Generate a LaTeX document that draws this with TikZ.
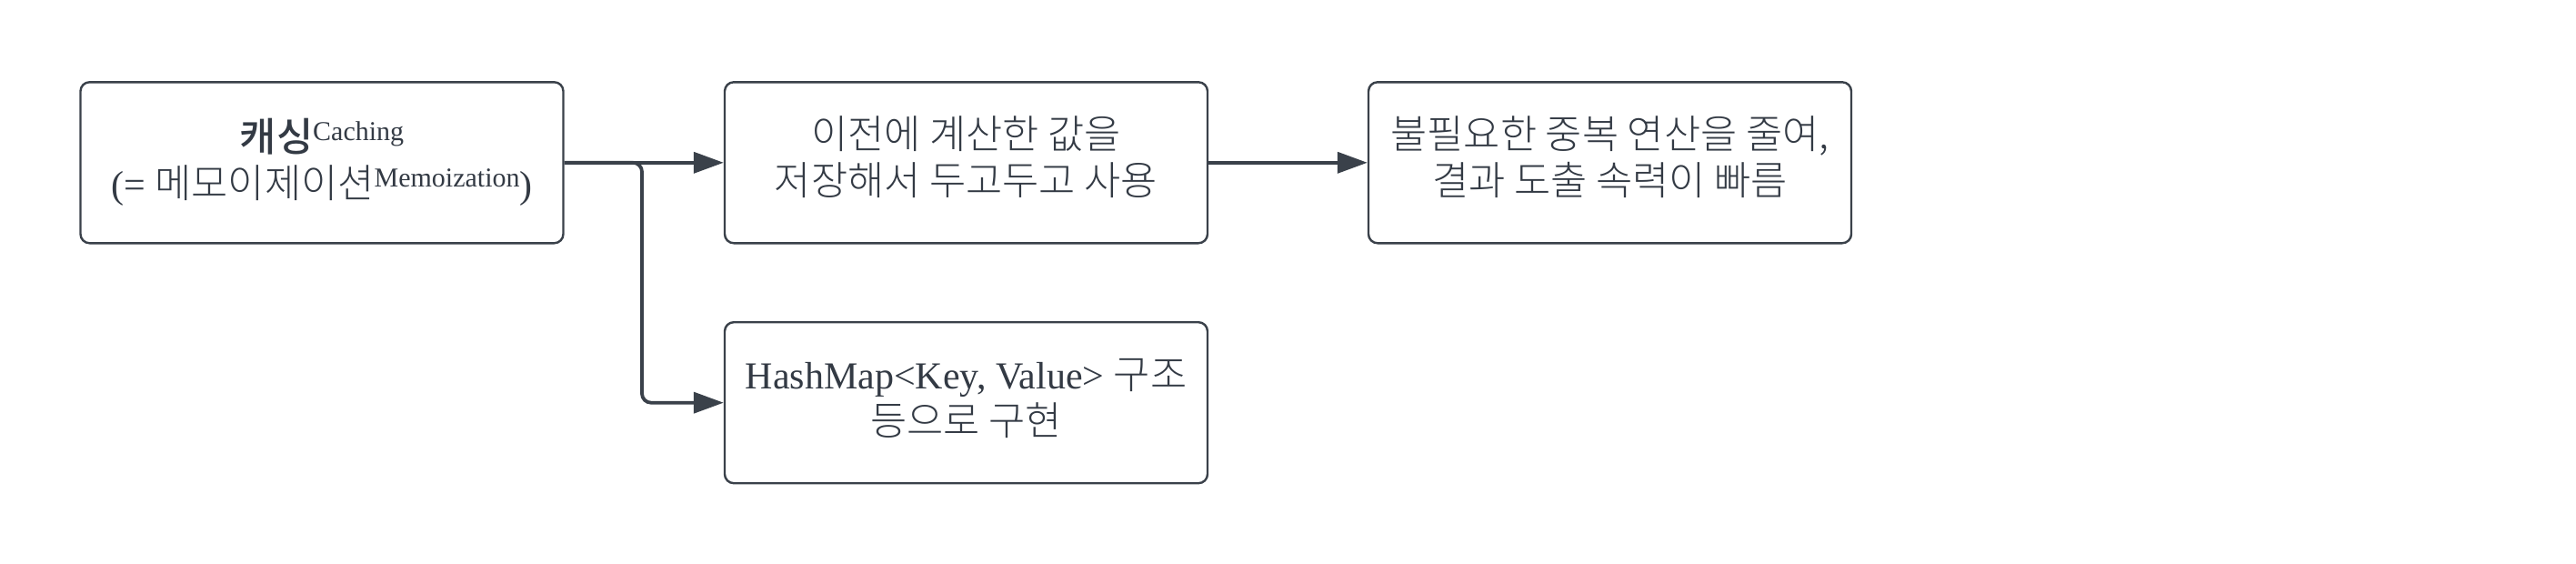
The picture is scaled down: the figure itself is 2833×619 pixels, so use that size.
\documentclass[tikz,border=0pt]{standalone}
\usepackage{fontspec}
\setmainfont{Liberation Serif}
\newfontfamily\kr{Noto Sans CJK KR}[UprightFont=* Light, BoldFont=* Medium, Scale=1.04]
\usetikzlibrary{arrows.meta}
\definecolor{ln}{RGB}{58,65,74}
\definecolor{tx}{RGB}{51,58,68}
\newcommand\supx[1]{\raisebox{12pt}{\fontsize{30}{30}\selectfont #1}}
\newcommand\twolines[3]{\raisebox{#1}{\begin{tabular}{@{}c@{}}#2\\#3\end{tabular}}}
\begin{document}
\begin{tikzpicture}[x=1pt,y=-1pt,
  box/.style={draw=ln, line width=2.4pt, rounded corners=10pt, minimum width=531pt,
    minimum height=177pt, align=center, text=tx, inner sep=0pt,
    font=\fontsize{42}{51}\selectfont},
  conn/.style={draw=ln, line width=3.8pt, -{Triangle[length=33pt,width=23pt]}}]
\useasboundingbox (0,0) rectangle (2833,619);
\node[box] (a) at (354,178.8) {{\kr\bfseries 캐싱}\supx{Caching}\\({=} {\kr 메모이제이션}\supx{Memoization})};
\node[box] (b) at (1062.5,178.8) {\twolines{5pt}{\kr 이전에 계산한 값을}{\kr 저장해서 두고두고 사용}};
\node[box] (c) at (1770.5,178.8) {\twolines{5pt}{\kr 불필요한 중복 연산을 줄여,}{\kr 결과 도출 속력이 빠름}};
\node[box] (d) at (1062.5,442.7) {\twolines{3pt}{HashMap<Key, Value> {\kr 구조}}{\kr 등으로 구현}};
\coordinate (br) at (706,0);
\draw[conn] (a.east) -- (b.west);
\draw[conn] (b.east) -- (c.west);
\draw[conn, rounded corners=10pt] (a.east) -| (br |- d.west) -- (d.west);
\end{tikzpicture}
\end{document}
